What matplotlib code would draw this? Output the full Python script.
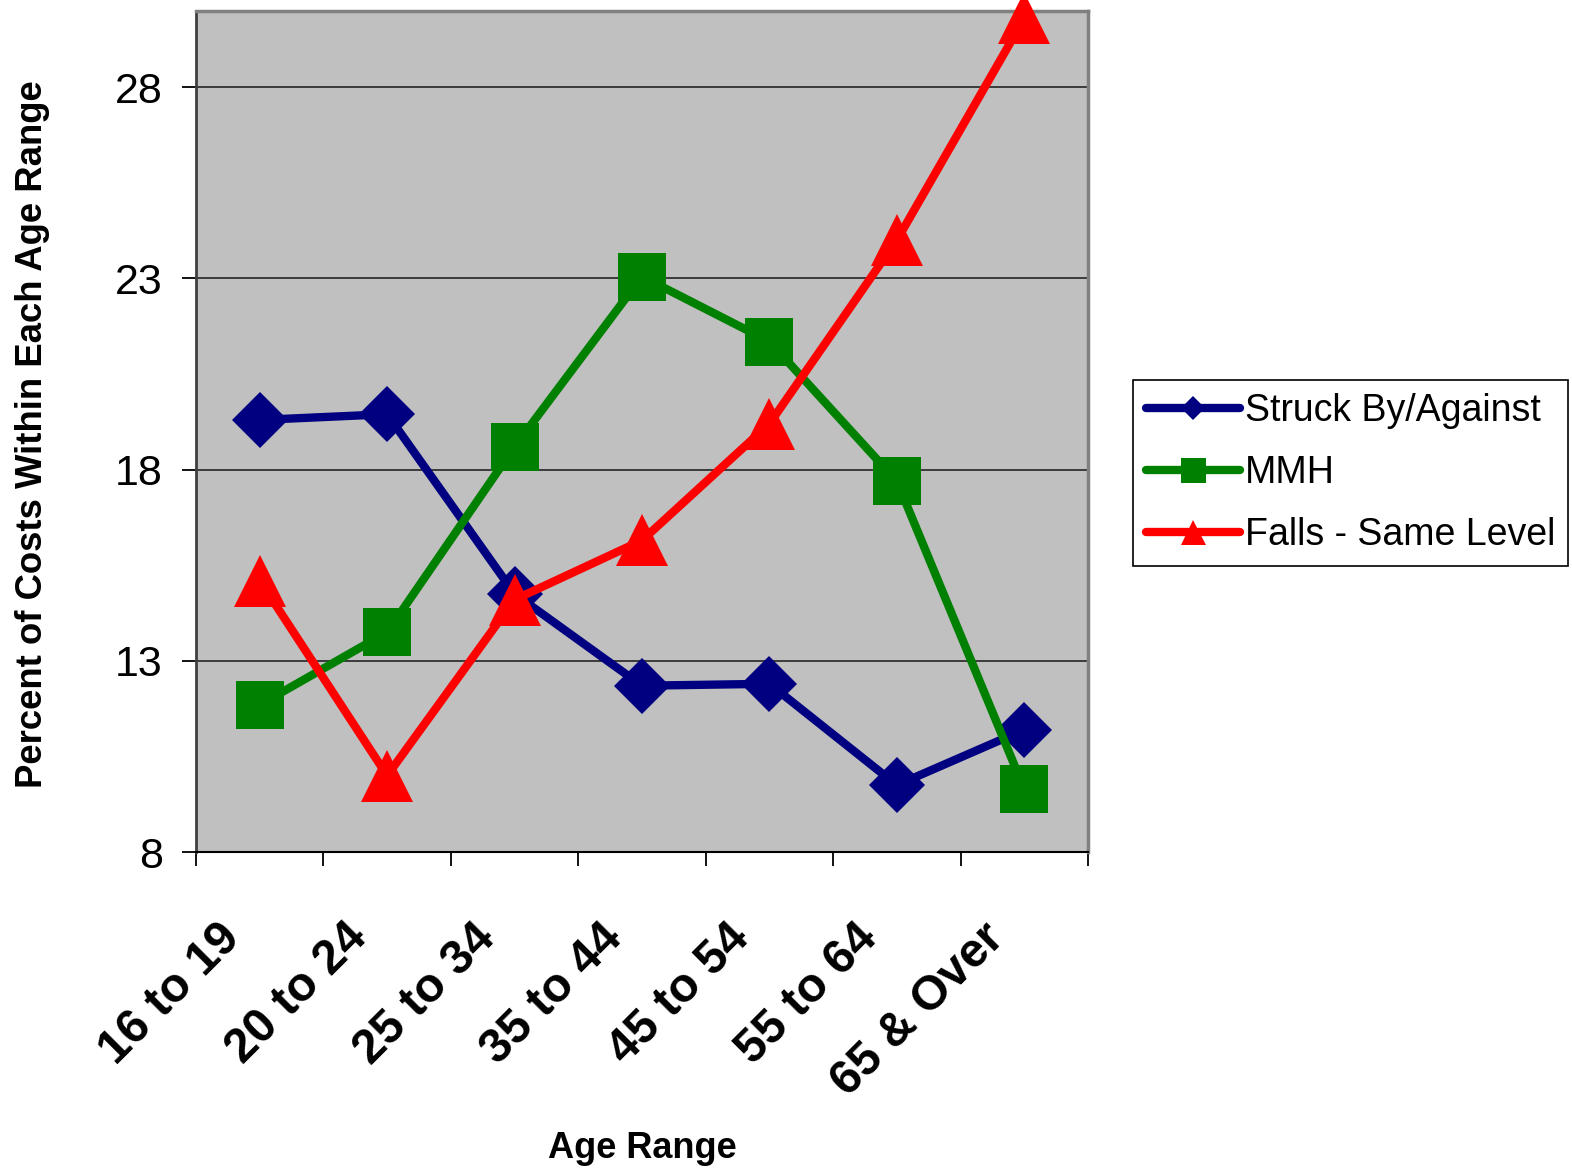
import matplotlib
matplotlib.use('Agg')
import matplotlib.pyplot as plt
from matplotlib.lines import Line2D
from matplotlib.transforms import ScaledTranslation

plt.rcParams['font.family'] = ['Liberation Sans', 'DejaVu Sans']

age_ranges = ['16 to 19', '20 to 24', '25 to 34', '35 to 44',
              '45 to 54', '55 to 64', '65 & Over']
struck = [19.3, 19.45, 14.75, 12.35, 12.4, 9.75, 11.2]
mmh = [11.85, 13.75, 18.6, 23.05, 21.35, 17.7, 9.65]
falls = [15.1, 10.0, 14.6, 16.15, 19.2, 24.0, 29.8]

series = [
    ('Struck By/Against', struck, '#000080', 'D', 29, 12),
    ('MMH', mmh, '#008000', 's', 35, 18),
    ('Falls - Same Level', falls, '#ff0000', '^', 37, 18),
]

fig = plt.figure(figsize=(15.72, 11.68), dpi=100)
ax = fig.add_axes([0.1247, 0.2705, 0.5674, 0.7203])
ax.set_facecolor('#c0c0c0')

x = list(range(len(age_ranges)))
handles = []
for name, vals, color, marker, ms, legend_ms in series:
    ax.plot(x, vals, color=color, lw=6, marker=marker, ms=ms,
            markeredgewidth=0, clip_on=False, zorder=3)
    handles.append(Line2D([], [], color=color, lw=6, marker=marker,
                          ms=legend_ms, markeredgewidth=0,
                          solid_capstyle='round'))

ax.set_xlim(-0.5, len(age_ranges) - 0.5)
ax.set_ylim(8, 30)
ax.set_yticks([8, 13, 18, 23, 28])
ax.yaxis.grid(True, color='#303030', lw=1.3)
ax.set_axisbelow(True)

# category labels at the centres, tick marks on the boundaries
ax.set_xticks(x)
ax.set_xticklabels(age_ranges, fontsize=34.5, fontweight='bold')
ax.set_xticks([i - 0.5 for i in range(len(age_ranges) + 1)], minor=True)
ax.tick_params(axis='x', which='major', length=0, pad=63)
ax.tick_params(axis='x', which='minor', length=10, width=1.3,
               direction='out', color='black')
shift = ScaledTranslation(-0.18, 0, fig.dpi_scale_trans)
for lbl in ax.get_xticklabels():
    lbl.set_rotation(45)
    lbl.set_ha('right')
    lbl.set_va('baseline')
    lbl.set_rotation_mode('anchor')
    lbl.set_transform(lbl.get_transform() + shift)
ax.tick_params(axis='y', length=10, width=1.3, direction='out',
               labelsize=31, pad=14)

for side in ['top', 'right']:
    ax.spines[side].set_color('#808080')
    ax.spines[side].set_linewidth(2.5)
ax.spines['left'].set_color('#404040')
ax.spines['left'].set_linewidth(2)
ax.spines['bottom'].set_color('black')
ax.spines['bottom'].set_linewidth(1.5)

ax.set_xlabel('Age Range', fontsize=26, fontweight='bold')
ax.xaxis.set_label_coords(0.5, -0.332)
ax.set_ylabel('Percent of Costs Within Each Age Range', fontsize=26.3,
              fontweight='bold')
ax.yaxis.set_label_coords(-0.164, 0.497)

leg = fig.legend(handles, [s[0] for s in series], loc='upper left',
                 bbox_to_anchor=(1133 / 1572, 1 - 380 / 1168),
                 borderaxespad=0, fontsize=27, handlelength=2.5,
                 handletextpad=0.15, labelspacing=0.7, borderpad=0.34,
                 fancybox=False, framealpha=1, edgecolor='black')
leg.get_frame().set_linewidth(1.2)

fig.savefig('out.png', dpi=100)
